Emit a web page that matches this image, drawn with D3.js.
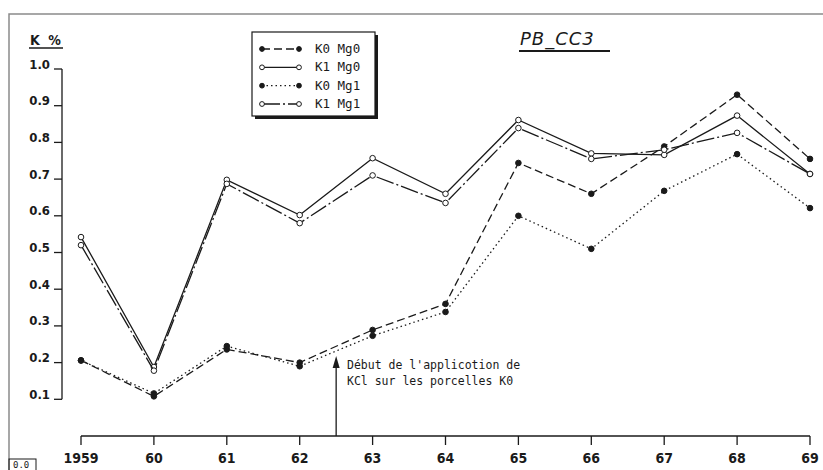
<!DOCTYPE html>
<html>
<head>
<meta charset="utf-8">
<script src="https://cdn.jsdelivr.net/npm/d3@7"></script>
<style>
  body { margin: 0; background: #fff; }
  svg { display: block; }
  .tick-lab { font-family: "DejaVu Sans Condensed", "DejaVu Sans", sans-serif; fill: #1a1a1a; }
  .mono { font-family: "DejaVu Sans Mono", monospace; fill: #1a1a1a; }
</style>
</head>
<body>
<svg width="823" height="470"></svg>
<script>
// donnees
const years = [1959, 1960, 1961, 1962, 1963, 1964, 1965, 1966, 1967, 1968, 1969];
const xLabels = ["1959", "60", "61", "62", "63", "64", "65", "66", "67", "68", "69"];
const yTicks = [0.1, 0.2, 0.3, 0.4, 0.5, 0.6, 0.7, 0.8, 0.9, 1.0];

const k0mg0 = [0.206, 0.108, 0.236, 0.200, 0.289, 0.360, 0.744, 0.660, 0.789, 0.930, 0.755];
const k1mg0 = [0.542, 0.188, 0.698, 0.602, 0.757, 0.660, 0.861, 0.770, 0.766, 0.873, 0.714];
const k0mg1 = [0.206, 0.116, 0.245, 0.190, 0.273, 0.338, 0.600, 0.510, 0.668, 0.768, 0.621];
const k1mg1 = [0.520, 0.178, 0.687, 0.580, 0.710, 0.635, 0.839, 0.755, 0.780, 0.826, 0.714];

const series = [
  { name: "K0 Mg0", values: k0mg0, dash: "8,4", filled: true },
  { name: "K1 Mg0", values: k1mg0, dash: null, filled: false },
  { name: "K0 Mg1", values: k0mg1, dash: "1.5,3", filled: true },
  { name: "K1 Mg1", values: k1mg1, dash: "18,3,2,3", filled: false }
];

const svg = d3.select("svg");
const ink = "#1a1a1a";

// cadre
svg.append("path")
  .attr("d", "M9,470 L9,14 L823,14")
  .attr("fill", "none").attr("stroke", "#8a8a8a").attr("stroke-width", 1.5);
svg.append("rect").attr("x", 9).attr("y", 459).attr("width", 27).attr("height", 12)
  .attr("fill", "none").attr("stroke", ink).attr("stroke-width", 1);
svg.append("text").attr("class", "mono").attr("x", 13).attr("y", 468)
  .style("font-size", "9px").text("0.0");

// echelles
const x = d3.scaleLinear().domain([1959, 1969]).range([81, 810]);
const y = d3.scaleLinear().domain([0, 1]).range([436, 69]);

// axe Y
svg.append("line").attr("x1", 62).attr("x2", 62).attr("y1", y(1.0)).attr("y2", y(0.1))
  .attr("stroke", ink).attr("stroke-width", 1.3);
const yt = svg.selectAll(".yt").data(yTicks).enter().append("g");
yt.append("line").attr("x1", 54).attr("x2", 62)
  .attr("y1", d => y(d)).attr("y2", d => y(d))
  .attr("stroke", ink).attr("stroke-width", 1.3);
yt.append("text").attr("class", "tick-lab")
  .attr("x", 50).attr("y", d => y(d) - 0.5)
  .attr("text-anchor", "end").style("font-size", "13px").style("font-weight", "bold")
  .text(d => d.toFixed(1));

// axe X
svg.append("line").attr("x1", x(1959)).attr("x2", x(1969)).attr("y1", 436).attr("y2", 436)
  .attr("stroke", ink).attr("stroke-width", 1.3);
const xt = svg.selectAll(".xt").data(years).enter().append("g");
xt.append("line").attr("x1", d => x(d)).attr("x2", d => x(d))
  .attr("y1", 436).attr("y2", 445)
  .attr("stroke", ink).attr("stroke-width", 1.3);
xt.append("text").attr("class", "tick-lab")
  .attr("x", d => x(d)).attr("y", 463)
  .attr("text-anchor", "middle").style("font-size", "14px").style("font-weight", "bold")
  .text((d, i) => xLabels[i]);

// titre de l'axe
svg.append("text").attr("class", "tick-lab").attr("x", 30).attr("y", 45)
  .style("font-size", "14px").style("font-weight", "bold").style("letter-spacing", "2px")
  .text("K %");
svg.append("line").attr("x1", 29).attr("x2", 63).attr("y1", 48).attr("y2", 48)
  .attr("stroke", ink).attr("stroke-width", 1.5);

// titre
svg.append("text").attr("x", 520).attr("y", 45)
  .style("font-family", "DejaVu Sans, sans-serif").style("font-style", "italic")
  .style("font-size", "18px").style("letter-spacing", "1px").attr("fill", ink)
  .text("PB_CC3");
svg.append("line").attr("x1", 519).attr("x2", 610).attr("y1", 51).attr("y2", 51)
  .attr("stroke", ink).attr("stroke-width", 2.2);

// courbes
const line = d3.line().x((d, i) => x(years[i])).y(d => y(d));
series.forEach(s => {
  svg.append("path").datum(s.values)
    .attr("d", line)
    .attr("fill", "none").attr("stroke", ink).attr("stroke-width", 1.3)
    .attr("stroke-dasharray", s.dash);
  svg.selectAll(null).data(s.values).enter().append("circle")
    .attr("cx", (d, i) => x(years[i])).attr("cy", d => y(d))
    .attr("r", 2.8)
    .attr("fill", s.filled ? ink : "#fff")
    .attr("stroke", ink).attr("stroke-width", 1);
});

// fleche et annotation
const ax = x(1962.5);
svg.append("line").attr("x1", ax).attr("x2", ax).attr("y1", 436).attr("y2", 366)
  .attr("stroke", ink).attr("stroke-width", 1.3);
svg.append("path")
  .attr("d", `M${ax},356 L${ax - 3.5},368 L${ax + 3.5},368 Z`).attr("fill", ink);
svg.append("text").attr("class", "mono").attr("x", 347).attr("y", 369)
  .style("font-size", "11.5px").text("Début de l'applicotion de");
svg.append("text").attr("class", "mono").attr("x", 347).attr("y", 385)
  .style("font-size", "11.5px").text("KCl  sur les porcelles K0");

// legende
const lg = svg.append("g");
lg.append("rect").attr("x", 255).attr("y", 35).attr("width", 123).attr("height", 84).attr("fill", ink);
lg.append("rect").attr("x", 252).attr("y", 32).attr("width", 123).attr("height", 84)
  .attr("fill", "#fff").attr("stroke", ink).attr("stroke-width", 1.2);
const rowY = d3.scaleLinear().domain([0, 3]).range([49, 104]);
series.forEach((s, i) => {
  const yy = rowY(i);
  lg.append("line").attr("x1", 262).attr("x2", 299).attr("y1", yy).attr("y2", yy)
    .attr("stroke", ink).attr("stroke-width", 1.3).attr("stroke-dasharray", s.dash);
  [262, 299].forEach(cx => lg.append("circle").attr("cx", cx).attr("cy", yy).attr("r", 2.4)
    .attr("fill", s.filled ? ink : "#fff").attr("stroke", ink).attr("stroke-width", 1));
  lg.append("text").attr("class", "mono").attr("x", 315).attr("y", yy + 4)
    .style("font-size", "12.5px").text(s.name);
});
</script>
</body>
</html>
